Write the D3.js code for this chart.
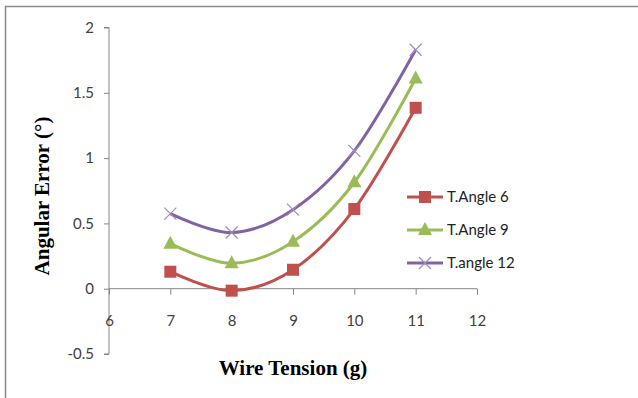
<!DOCTYPE html>
<html lang="en">
<head>
<meta charset="UTF-8">
<title>Angular Error vs Wire Tension</title>
<script src="https://d3js.org/d3.v7.min.js"></script>
<style>
    body { margin: 0; background: #fff; }
    .tick text { font-family: Lato, "Open Sans", sans-serif; font-size: 15px; fill: #404040; }
    .axis-title { font-family: "Liberation Serif", "Times New Roman", serif; font-weight: bold; font-size: 21px; fill: #000; }
    .legend text { font-family: Lato, "Open Sans", sans-serif; font-size: 15px; fill: #222; }
</style>
</head>
<body>
<div id="chart"></div>
<script>
    // data
    const tensions = [7, 8, 9, 10, 11];
    const angle6 = [0.13, -0.015, 0.145, 0.61, 1.385];
    const angle9 = [0.345, 0.195, 0.36, 0.815, 1.61];
    const angle12 = [0.575, 0.43, 0.605, 1.055, 1.83];
    const seriesNames = ["T.Angle 6", "T.Angle 9", "T.angle 12"];
    const xTicks = [6, 7, 8, 9, 10, 11, 12];
    const yTicks = [-0.5, 0, 0.5, 1, 1.5, 2];

    const series = [
        { name: seriesNames[0], values: angle6, color: "#C0504D", marker: "square" },
        { name: seriesNames[1], values: angle9, color: "#9BBB59", marker: "triangle" },
        { name: seriesNames[2], values: angle12, color: "#8064A2", marker: "cross" }
    ];

    const W = 638, H = 398;
    const svg = d3.select("#chart").append("svg").attr("width", W).attr("height", H);

    // outer frame (only top and left edges visible)
    svg.append("line").attr("x1", 5).attr("x2", W).attr("y1", 6.5).attr("y2", 6.5)
        .attr("stroke", "#8a8a8a").attr("stroke-width", 1.5);
    svg.append("line").attr("x1", 5.5).attr("x2", 5.5).attr("y1", 6).attr("y2", H)
        .attr("stroke", "#8a8a8a").attr("stroke-width", 1.5);

    const x = d3.scaleLinear().domain([6, 12]).range([109, 477]);
    const y = d3.scaleLinear().domain([-0.5, 2]).range([354, 27.5]);

    // y axis
    const yAxis = svg.append("g").attr("transform", `translate(${x(6)},0)`)
        .call(d3.axisLeft(y).tickValues(yTicks).tickSize(5).tickPadding(10).tickFormat(d => String(d)));
    yAxis.select(".domain").attr("stroke", "#868686").attr("d", `M-5,${y(-0.5)}H0V${y(2)}H-5`);
    yAxis.selectAll(".tick line").attr("stroke", "#868686");

    // x axis at y = 0
    const xAxis = svg.append("g").attr("transform", `translate(0,${y(0)})`)
        .call(d3.axisBottom(x).tickValues(xTicks).tickSize(6).tickPadding(21).tickFormat(d => String(d)));
    xAxis.select(".domain").attr("stroke", "#868686").attr("d", `M${x(6)},0H${x(12)}`);
    xAxis.selectAll(".tick line").attr("stroke", "#868686");

    // axis titles
    svg.append("text").attr("class", "axis-title")
        .attr("x", 293).attr("y", 375).attr("text-anchor", "middle")
        .text("Wire Tension (g)");
    svg.append("text").attr("class", "axis-title")
        .attr("transform", `translate(49,${196}) rotate(-90)`).attr("text-anchor", "middle")
        .text("Angular Error (°)");

    const line = d3.line()
        .x((d, i) => x(tensions[i]))
        .y(d => y(d))
        .curve(d3.curveCardinal.tension(0));

    function drawMarker(g, type, cx, cy, color) {
        if (type === "square") {
            g.append("rect").attr("x", cx - 6).attr("y", cy - 6).attr("width", 12).attr("height", 12)
                .attr("fill", color);
        } else if (type === "triangle") {
            g.append("path").attr("d", `M${cx},${cy - 8}L${cx + 7},${cy + 5}L${cx - 7},${cy + 5}Z`)
                .attr("fill", color);
        } else {
            g.append("path").attr("d", `M${cx - 6},${cy - 6}L${cx + 6},${cy + 6}M${cx - 6},${cy + 6}L${cx + 6},${cy - 6}`)
                .attr("stroke", "#a08cc4").attr("stroke-width", 1.2);
        }
    }

    const plot = svg.append("g");
    series.forEach(s => {
        plot.append("path").datum(s.values)
            .attr("fill", "none").attr("stroke", s.color).attr("stroke-width", 3)
            .attr("d", line);
        const mg = plot.append("g");
        s.values.forEach((v, i) => drawMarker(mg, s.marker, x(tensions[i]), y(v), s.color));
    });

    // legend
    const legend = svg.append("g").attr("class", "legend");
    series.forEach((s, i) => {
        const ly = 197 + i * 33;
        const g = legend.append("g");
        g.append("line").attr("x1", 407).attr("x2", 443).attr("y1", ly).attr("y2", ly)
            .attr("stroke", s.color).attr("stroke-width", 3);
        drawMarker(g, s.marker, 425, ly, s.color);
        g.append("text").attr("x", 447).attr("y", ly + 5).text(s.name);
    });
</script>
</body>
</html>
